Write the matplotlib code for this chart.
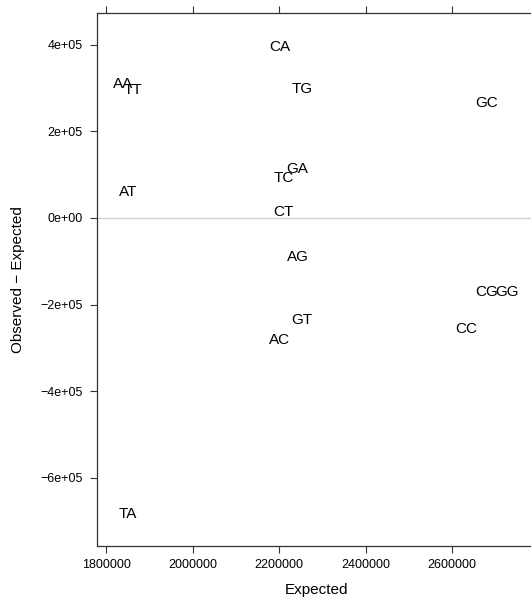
import matplotlib
matplotlib.use("Agg")
import matplotlib.pyplot as plt
from matplotlib.ticker import FuncFormatter

plt.rcParams['font.family'] = ['Liberation Sans', 'DejaVu Sans']

# dinucleotide labels, expected count and observed - expected
labels = ["CA", "AA", "TT", "AT", "TG", "GC", "GA", "TC", "CT",
          "AG", "CG", "GG", "GT", "AC", "CC", "TA"]
expected = [2202000, 1839000, 1862000, 1850000, 2253000, 2681000, 2243000, 2211000, 2211000,
            2243000, 2681000, 2727000, 2253000, 2201000, 2632000, 1850000]
obs_minus_exp = [395000, 309000, 296000, 60000, 298000, 266000, 113000, 92000, 14000,
                 -90000, -171000, -171000, -236000, -282000, -256000, -684000]

x_ticks = [1800000, 2000000, 2200000, 2400000, 2600000]
y_ticks = [-600000, -400000, -200000, 0, 200000, 400000]

fig = plt.figure(figsize=(5.31, 5.99), dpi=100)
ax = fig.add_axes([97 / 531, 53 / 599, 440 / 531, 533 / 599])

ax.axhline(0, color="#d0d0d0", lw=1, zorder=0)
for lab, xv, yv in zip(labels, expected, obs_minus_exp):
    ax.text(xv, yv, lab, ha="center", va="center", fontsize=11, color="black")

ax.set_xlim(1779000, 2796500)
ax.set_ylim(-757500, 473400)
ax.set_xticks(x_ticks)
ax.set_yticks(y_ticks)


def sci(v, pos):
    s = "%.0e" % v
    return s.replace("-", "\u2212")


ax.yaxis.set_major_formatter(FuncFormatter(sci))
ax.xaxis.set_major_formatter(FuncFormatter(lambda v, p: "%d" % v))
ax.tick_params(axis="both", direction="out", length=5, width=0.8, labelsize=9, color="#333333")
ax.tick_params(axis="y", pad=5.5)
ax.tick_params(axis="x", top=True, labeltop=False, pad=4)
for s in ax.spines.values():
    s.set_color("#333333")
    s.set_linewidth(0.9)
ax.spines["right"].set_visible(False)

ax.set_xlabel("Expected", fontsize=11)
ax.set_ylabel("Observed \u2212 Expected", fontsize=11)
ax.yaxis.set_label_coords(-0.164, 0.5)
ax.xaxis.set_label_coords(0.5, -0.069)

fig.savefig("out.png", dpi=100)
